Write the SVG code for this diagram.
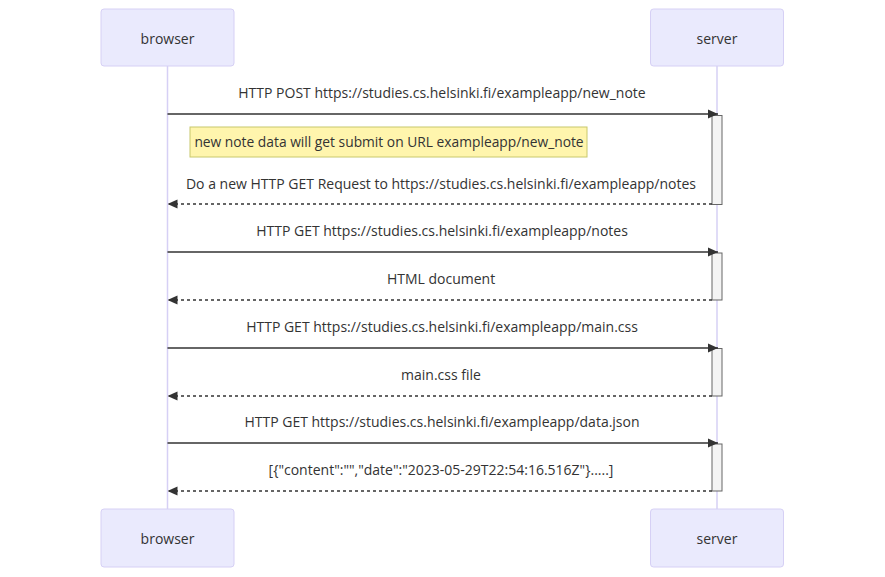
<svg xmlns="http://www.w3.org/2000/svg" width="885" height="577" viewBox="0 0 885 577">
<defs>
<style>
.actor{fill:#eaeafd;stroke:#d6d0f5;stroke-width:1}
.atext{font-family:"Open Sans","Liberation Sans",sans-serif;font-size:14px;fill:#333;text-anchor:middle;dominant-baseline:central}
.life{stroke:#d6d0f5;stroke-width:1.5}
.msg{font-family:"Open Sans","Liberation Sans",sans-serif;font-size:14px;fill:#333;text-anchor:middle}
.solid{stroke:#333;stroke-width:1.5;fill:none}
.dash{stroke:#333;stroke-width:1.5;fill:none;stroke-dasharray:3,3}
.act{fill:#f4f4f4;stroke:#666;stroke-width:1}
.note{fill:#fff5ad;stroke:#c8c86c;stroke-width:1}
</style>
<marker id="ah" viewBox="0 0 10 10" refX="10" refY="5" markerWidth="10" markerHeight="10" markerUnits="userSpaceOnUse" orient="auto">
<path d="M0,0.5 L10,5 L0,9.5 z" fill="#333"/>
</marker>
</defs>
<g id="lifelines">
<line class="life" x1="167.5" y1="66" x2="167.5" y2="509"/>
<line class="life" x1="717" y1="66" x2="717" y2="509"/>
</g>
<g id="browser-top"><rect class="actor" x="101" y="9" width="133" height="57" rx="3"/><text class="atext" x="167.5" y="38">browser</text></g>
<g id="server-top"><rect class="actor" x="650.5" y="9" width="133" height="57" rx="3"/><text class="atext" x="717" y="38">server</text></g>
<g id="browser-bottom"><rect class="actor" x="101" y="509" width="133" height="58" rx="3"/><text class="atext" x="167.5" y="538">browser</text></g>
<g id="server-bottom"><rect class="actor" x="650.5" y="509" width="133" height="58" rx="3"/><text class="atext" x="717" y="538">server</text></g>
<g id="activations">
<rect class="act" x="712" y="115.5" width="10" height="89"/>
<rect class="act" x="712" y="253" width="10" height="47"/>
<rect class="act" x="712" y="348.5" width="10" height="47.5"/>
<rect class="act" x="712" y="444" width="10" height="47"/>
</g>
<g id="note1"><rect class="note" x="190" y="127" width="397" height="30"/><text class="msg" x="389" y="147" style="font-size:13.8px">new note data will get submit on URL exampleapp/new_note</text></g>
<g id="connectors">
<line class="solid" x1="167.5" y1="114" x2="718" y2="114" marker-end="url(#ah)"/>
<line class="dash" x1="712" y1="204" x2="167.5" y2="204" marker-end="url(#ah)"/>
<line class="solid" x1="167.5" y1="252" x2="718" y2="252" marker-end="url(#ah)"/>
<line class="dash" x1="712" y1="300" x2="167.5" y2="300" marker-end="url(#ah)"/>
<line class="solid" x1="167.5" y1="348" x2="718" y2="348" marker-end="url(#ah)"/>
<line class="dash" x1="712" y1="396" x2="167.5" y2="396" marker-end="url(#ah)"/>
<line class="solid" x1="167.5" y1="443" x2="718" y2="443" marker-end="url(#ah)"/>
<line class="dash" x1="712" y1="491" x2="167.5" y2="491" marker-end="url(#ah)"/>
</g>
<g id="labels">
<text class="msg" x="442" y="98">HTTP POST https://studies.cs.helsinki.fi/exampleapp/new_note</text>
<text class="msg" x="441" y="189">Do a new HTTP GET Request to https://studies.cs.helsinki.fi/exampleapp/notes</text>
<text class="msg" x="442" y="236">HTTP GET https://studies.cs.helsinki.fi/exampleapp/notes</text>
<text class="msg" x="441" y="284">HTML document</text>
<text class="msg" x="442" y="332">HTTP GET https://studies.cs.helsinki.fi/exampleapp/main.css</text>
<text class="msg" x="441" y="380">main.css file</text>
<text class="msg" x="442" y="427">HTTP GET https://studies.cs.helsinki.fi/exampleapp/data.json</text>
<text class="msg" x="441" y="475">[{"content":"","date":"2023-05-29T22:54:16.516Z"}.....]</text>
</g>
</svg>
